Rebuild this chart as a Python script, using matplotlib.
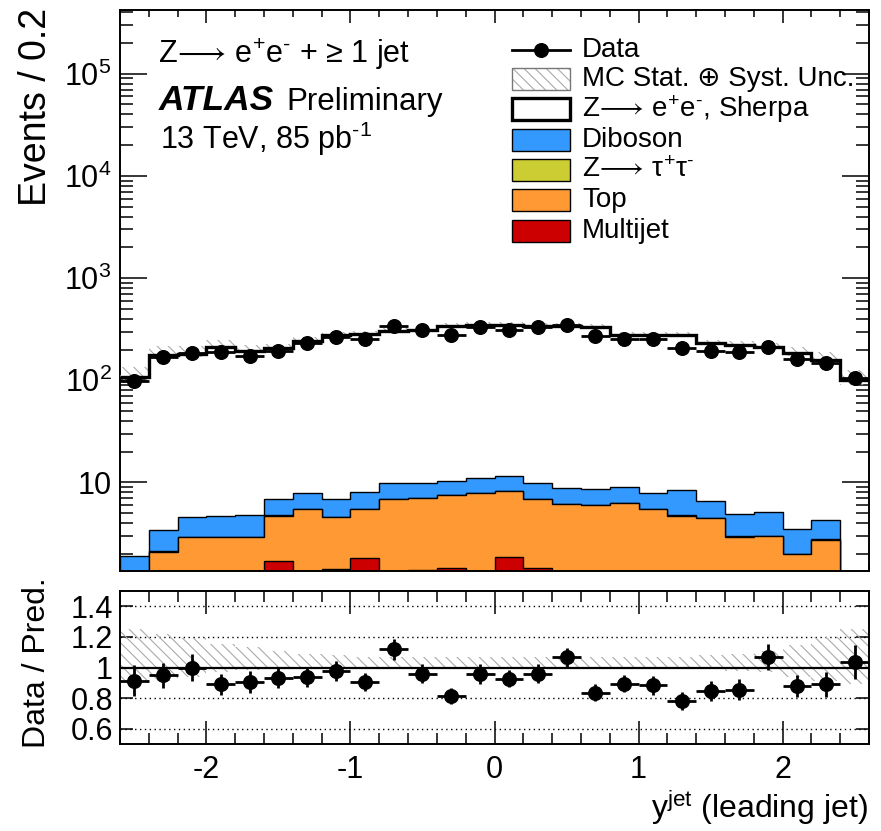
import numpy as np
import matplotlib
matplotlib.use("Agg")
import matplotlib.pyplot as plt
from matplotlib.patches import Rectangle
from matplotlib.lines import Line2D
from matplotlib.ticker import FixedLocator, MultipleLocator, FuncFormatter, LogLocator, NullFormatter

plt.rcParams['font.family'] = ['Liberation Sans', 'DejaVu Sans']
plt.rcParams['mathtext.fontset'] = 'custom'
plt.rcParams['mathtext.rm'] = 'Liberation Sans'
plt.rcParams['mathtext.it'] = 'Liberation Sans:italic'
plt.rcParams['mathtext.bf'] = 'Liberation Sans:bold'
plt.rcParams['mathtext.fallback'] = 'stixsans'
plt.rcParams['axes.unicode_minus'] = False
plt.rcParams['hatch.linewidth'] = 0.8

# ---------------- data ----------------
bin_edges = np.round(np.arange(-2.6, 2.61, 0.2), 2)

data = [98, 168, 184, 190, 174, 192, 231, 264, 253, 337, 311, 278, 334,
        313, 331, 347, 273, 253, 251, 207, 194, 188, 210, 161, 147, 106]

zee = [105, 175, 176, 208, 190, 198, 236, 270, 275, 296, 303, 333, 339,
       332, 333, 334, 325, 269, 270, 268, 225, 218, 205, 181, 155, 100]

diboson = [1.91, 1.32, 1.62, 1.76, 1.86, 2.12, 2.44, 2.29, 2.51, 2.93, 2.89, 2.85, 3.16,
           3.25, 2.88, 2.68, 2.57, 2.66, 2.44, 3.66, 2.12, 1.93, 2.16, 1.51, 1.46, 0.0]

ztautau = [0.0, 0.02, 0.03, 0.03, 0.03, 0.03, 0.03, 0.03, 0.03, 0.03, 0.03, 0.03, 0.03,
           0.03, 0.03, 0.03, 0.03, 0.03, 0.03, 0.03, 0.03, 0.03, 0.03, 0.03, 0.08, 0.0]

top = [0.0, 2.10, 2.90, 2.90, 2.90, 3.01, 5.44, 3.14, 3.63, 6.82, 5.59, 6.06, 7.91,
       6.37, 5.42, 6.14, 6.00, 6.24, 5.44, 4.72, 4.45, 2.94, 2.97, 1.98, 2.73, 0.0]

multijet = [0.0, 0.0, 0.0, 0.0, 0.0, 1.71, 0.0, 1.41, 1.81, 0.0, 1.39, 1.46, 0.0,
            1.85, 1.45, 0.0, 0.0, 0.0, 0.0, 0.0, 0.0, 0.0, 0.0, 0.0, 0.0, 0.0]

ratio = [0.915, 0.949, 1.0, 0.889, 0.904, 0.932, 0.936, 0.979, 0.904, 1.119, 0.960, 0.815, 0.957,
         0.926, 0.960, 1.066, 0.834, 0.894, 0.883, 0.779, 0.845, 0.855, 1.070, 0.879, 0.889, 1.034]

ratio_err = [0.099, 0.080, 0.085, 0.068, 0.072, 0.064, 0.064, 0.066, 0.060, 0.069, 0.063, 0.051, 0.064,
             0.055, 0.060, 0.064, 0.055, 0.056, 0.060, 0.058, 0.065, 0.069, 0.085, 0.074, 0.081, 0.112]

band_up = [1.25, 1.22, 1.19, 1.155, 1.135, 1.11, 1.09, 1.08, 1.07, 1.07, 1.07, 1.07, 1.07,
           1.07, 1.07, 1.07, 1.07, 1.07, 1.07, 1.07, 1.08, 1.09, 1.11, 1.15, 1.20, 1.25]
band_dn = [0.89, 0.91, 0.94, 0.97, 0.985, 0.99, 0.99, 0.99, 0.99, 0.99, 0.99, 0.99, 0.99,
           0.99, 0.99, 0.99, 0.99, 0.99, 0.99, 0.99, 0.99, 0.98, 0.97, 0.94, 0.91, 0.89]

ARROW = r'$\!\longrightarrow\!$'
legend_labels = ['Data', 'MC Stat. \u2295 Syst. Unc.', 'Z' + ARROW + ' e$^{+}$e$^{\u2010}$, Sherpa',
                 'Diboson', 'Z' + ARROW + ' \u03c4$^{+}$\u03c4$^{\u2010}$', 'Top', 'Multijet']

c_dib = '#3399ff'
c_ztt = '#cccc33'
c_top = '#ff9933'
c_mj = '#cc0000'

# ---------------- derived ----------------
edges = bin_edges
centers = 0.5 * (edges[1:] + edges[:-1])
halfw = 0.5 * (edges[1:] - edges[:-1])
data = np.array(data, float)
mj = np.array(multijet)
c_top_cum = mj + np.array(top)
c_ztt_cum = c_top_cum + np.array(ztautau)
c_dib_cum = c_ztt_cum + np.array(diboson)
total = c_dib_cum + np.array(zee)
ratio = np.array(ratio)
ratio_err = np.array(ratio_err)
data_err = ratio_err / ratio * data

W, H = 881, 831
fig = plt.figure(figsize=(W / 100, H / 100), dpi=100)

def fx(px):
    return px / W

def fy(py):
    return 1 - py / H

axL, axR = 120, 869
ax = fig.add_axes([fx(axL), fy(571), fx(axR - axL), (571 - 10) / H])
axr = fig.add_axes([fx(axL), fy(744), fx(axR - axL), (744 - 591) / H])

floor = 1e-3
# stacked backgrounds (ROOT style: cumulative fills from bottom)
for cum, col in [(c_dib_cum, c_dib), (c_ztt_cum, c_ztt), (c_top_cum, c_top), (mj, c_mj)]:
    ax.stairs(np.maximum(cum, floor), edges, baseline=floor, fill=True,
              facecolor=col, edgecolor='black', linewidth=1.0, zorder=2)
# uncertainty band
ax.stairs(total * np.array(band_up), edges, baseline=total * np.array(band_dn), fill=True,
          facecolor='none', edgecolor='#aaaaaa', hatch='\\\\\\', linewidth=0, zorder=3)
# MC total
ax.stairs(total, edges, baseline=None, color='black', linewidth=2.4, zorder=4)
# data
ax.errorbar(centers, data, xerr=halfw, yerr=data_err, fmt='o', color='black',
            markersize=9.8, elinewidth=2.0, capsize=0, zorder=5)

ax.set_yscale('log')
ax.set_xlim(-2.6, 2.6)
ax.set_ylim(1.36, 4.2e5)
ax.yaxis.set_major_locator(FixedLocator([10, 100, 1e3, 1e4, 1e5]))
ax.yaxis.set_minor_locator(LogLocator(base=10, subs=np.arange(2, 10), numticks=20))
ax.yaxis.set_minor_formatter(NullFormatter())

def logfmt(v, pos):
    e = int(round(np.log10(v)))
    if e == 1:
        return '10'
    return r'$\mathregular{10^{%d}}$' % e

ax.yaxis.set_major_formatter(FuncFormatter(logfmt))
ax.xaxis.set_major_locator(MultipleLocator(1))
ax.xaxis.set_minor_locator(MultipleLocator(0.2))
ax.tick_params(axis='x', which='both', labelbottom=False)
ax.tick_params(which='both', direction='in', top=True, right=True, width=1.1)
ax.tick_params(axis='x', which='major', length=9.4)
ax.tick_params(axis='x', which='minor', length=5)
ax.tick_params(axis='y', which='major', length=19.4, labelsize=22, pad=6)
ax.tick_params(axis='y', which='minor', length=9.4)
for s in ax.spines.values():
    s.set_linewidth(1.4)

# ratio panel
axr.stairs(np.array(band_up), edges, baseline=np.array(band_dn), fill=True,
           facecolor='none', edgecolor='#aaaaaa', hatch='\\\\\\', linewidth=0, zorder=2)
for g in [0.6, 0.8, 1.2, 1.4]:
    axr.axhline(g, color='black', linestyle=(0, (1, 2.5)), linewidth=1.0, zorder=1)
axr.axhline(1.0, color='black', linewidth=1.6, zorder=3)
axr.errorbar(centers, ratio, xerr=halfw, yerr=ratio_err, fmt='o', color='black',
             markersize=9.8, elinewidth=2.0, capsize=0, zorder=5)
axr.set_xlim(-2.6, 2.6)
axr.set_ylim(0.5, 1.5)
axr.yaxis.set_major_locator(FixedLocator([0.6, 0.8, 1.0, 1.2, 1.4]))
axr.yaxis.set_major_formatter(FuncFormatter(lambda v, p: '%g' % v))
axr.xaxis.set_major_locator(MultipleLocator(1))
axr.xaxis.set_minor_locator(MultipleLocator(0.2))
axr.xaxis.set_major_formatter(FuncFormatter(lambda v, p: '%d' % round(v)))
axr.tick_params(which='both', direction='in', top=True, right=True, width=1.1)
axr.tick_params(axis='x', which='major', length=16.5, labelsize=22, pad=8)
axr.tick_params(axis='x', which='minor', length=8)
axr.tick_params(axis='y', which='major', length=9.4, labelsize=22, pad=5)
for s in axr.spines.values():
    s.set_linewidth(1.4)

# axis titles
fig.text(fx(36), fy(8), 'Events / 0.2', rotation=90, ha='center', va='top', fontsize=27)
fig.text(fx(37), fy(663), 'Data / Pred.', rotation=90, ha='center', va='center', fontsize=23)
fig.text(fx(868), fy(818), r'y$^{\mathregular{jet}}$ (leading jet)', ha='right', va='baseline', fontsize=23)

# labels
fig.text(fx(158), fy(63), 'Z' + ARROW + ' e$^{+}$e$^{\u2010}$ + \u2265 1 jet', ha='left', va='baseline', fontsize=22)
fig.text(fx(159), fy(110), 'ATLAS', ha='left', va='baseline', fontsize=25.5, fontweight='bold', style='italic')
fig.text(fx(286), fy(110), 'Preliminary', ha='left', va='baseline', fontsize=22.5)
fig.text(fx(160), fy(149), '13 TeV, 85 pb$^{\u2010 1}$', ha='left', va='baseline', fontsize=22)

# legend (manual, ROOT style)
leg_y = [50, 79, 109, 140, 170, 200, 231]
bx0, bx1, bh = 512, 570, 21
txt_x = 582
styles = [None, 'hatch', 'zee', c_dib, c_ztt, c_top, c_mj]
for yc, lab, st in zip(leg_y, legend_labels, styles):
    if st is None:
        fig.add_artist(Line2D([fx(bx0), fx(bx1)], [fy(yc), fy(yc)], color='black', linewidth=2.0))
        fig.add_artist(Line2D([fx((bx0 + bx1) / 2)], [fy(yc)], marker='o', color='black', markersize=9.8))
    elif st == 'hatch':
        fig.add_artist(Rectangle((fx(bx0), fy(yc + bh / 2)), fx(bx1 - bx0), bh / H,
                                 facecolor='none', edgecolor='#aaaaaa', hatch='\\\\\\', linewidth=0))
        fig.add_artist(Rectangle((fx(bx0), fy(yc + bh / 2)), fx(bx1 - bx0), bh / H,
                                 facecolor='none', edgecolor='#777777', linewidth=1.0))
    elif st == 'zee':
        fig.add_artist(Rectangle((fx(bx0), fy(yc + bh / 2)), fx(bx1 - bx0), bh / H,
                                 facecolor='white', edgecolor='black', linewidth=2.4))
    else:
        fig.add_artist(Rectangle((fx(bx0), fy(yc + bh / 2)), fx(bx1 - bx0), bh / H,
                                 facecolor=st, edgecolor='black', linewidth=1.0))
    fig.text(fx(txt_x), fy(yc), lab, ha='left', va='center', fontsize=20)

fig.savefig('out.png', dpi=100)
